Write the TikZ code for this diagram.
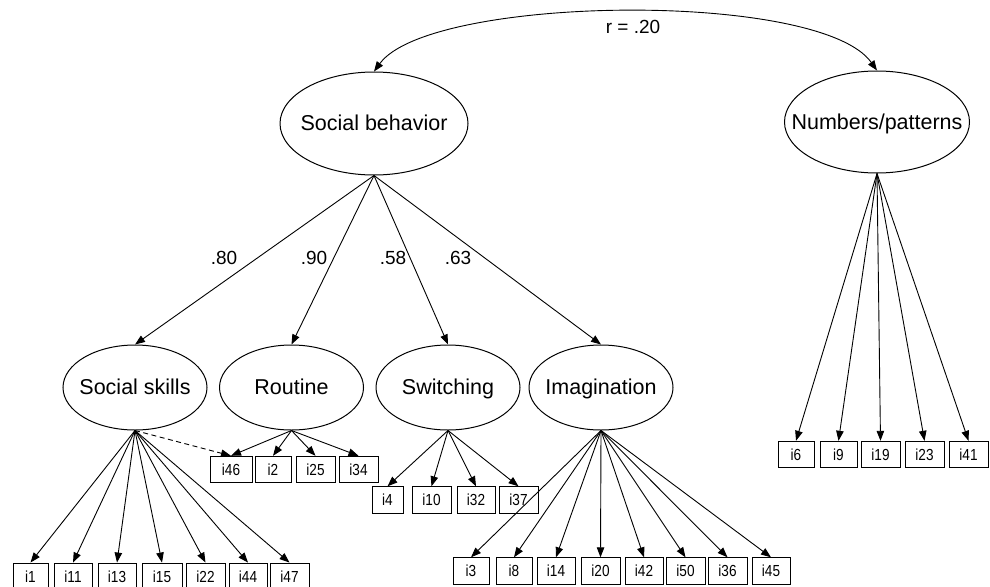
\documentclass[tikz,border=0pt]{standalone}
\usepackage{fontspec}
\setmainfont{Liberation Sans}
\newfontfamily\itemfont[FakeStretch=0.85]{Liberation Sans}
\usetikzlibrary{shapes.geometric,arrows.meta}
\begin{document}
\begin{tikzpicture}[x=1pt,y=-1pt,
  lat/.style={draw,ellipse,line width=1pt,inner sep=0pt,text height=15pt,text depth=1pt,font=\fontsize{21.5}{22}\selectfont},
  bigl/.style={lat,minimum width=188pt,minimum height=103pt},
  smalll/.style={lat,minimum width=144pt,minimum height=85pt},
  item/.style={draw,line width=0.9pt,inner sep=0pt,minimum width=38pt,minimum height=26.5pt,text height=11.5pt,text depth=0pt,font=\itemfont\fontsize{16}{16}\selectfont},
  ar/.style={line width=0.9pt,-{Triangle[length=10pt,width=7.5pt]}},
  coef/.style={font=\fontsize{19}{19}\selectfont,inner sep=0pt}]
\clip (0,0) rectangle (990,586);
\fill[white] (0,0) rectangle (990,586);

% latent variables
\node[bigl] (sb) at (374,123.5) {\makebox[0pt]{Social behavior}};
\node[bigl,minimum width=185pt,minimum height=102pt] (np) at (877,122) {\makebox[0pt]{Numbers/patterns}};
\node[smalll] (ss) at (135,387.5) {\makebox[0pt]{Social skills}};
\node[smalll] (ro) at (291.5,387.5) {\makebox[0pt]{Routine}};
\node[smalll] (sw) at (448,387.5) {\makebox[0pt]{Switching}};
\node[smalll] (im) at (601,387.5) {\makebox[0pt]{Imagination}};

% correlation
\draw[line width=0.9pt,{Triangle[length=10pt,width=7.5pt]}-{Triangle[length=10pt,width=7.5pt]}]
  (sb.north) .. controls (430,-5) and (820,-10) .. (np.north);
\node[coef] (r) at (633,27) {r = .20};

% second-order loadings
\draw[ar] (sb.south) -- (ss.north);
\draw[ar] (sb.south) -- (ro.north);
\draw[ar] (sb.south) -- (sw.north);
\draw[ar] (sb.south) -- (im.north);
\node[coef] (l1) at (224,258) {.80};
\node[coef] (l2) at (314,258) {.90};
\node[coef] (l3) at (393,258) {.58};
\node[coef] (l4) at (458,258) {.63};

% social skills items
\foreach \n/\x/\w in {i1/30.5/35,i11/73/38,i13/117/38,i15/162/40,i22/205.5/39,i44/248/38,i47/289.5/39}{
  \node[item,minimum width=\w pt,minimum height=27pt] (\n) at (\x,576.5) {\n};
  \draw[ar] (ss.south) -- (\n.north);
}
% routine items
\foreach \n/\x/\w in {i46/231/42,i2/273/36,i25/315.5/39,i34/358.5/39}{
  \node[item,minimum width=\w pt] (\n) at (\x,469.5) {\n};
}
\draw[ar,dashed,dash pattern=on 5pt off 3.5pt] (ss.south) -- (i46.north);
\foreach \n in {i46,i2,i25,i34}{ \draw[ar] (ro.south) -- (\n.north); }
% switching items
\foreach \n/\x/\w in {i4/387.5/31,i10/431.5/39,i32/476/38,i37/518.5/39}{
  \node[item,minimum width=\w pt] (\n) at (\x,500) {\n};
  \draw[ar] (sw.south) -- (\n.north);
}
% imagination items
\foreach \n/\x/\w in {i3/471/36,i8/514/36,i14/556/38,i20/600.5/39,i42/644/38,i50/685.5/39,i36/727.5/39,i45/771/38}{
  \node[item,minimum width=\w pt] (\n) at (\x,571) {\n};
  \draw[ar] (im.south) -- (\n.north);
}
% numbers/patterns items
\foreach \n/\x/\w in {i6/796/36,i9/838.5/37,i19/880.5/39,i23/924.5/39,i41/968.5/39}{
  \node[item,minimum width=\w pt] (\n) at (\x,454.5) {\n};
  \draw[ar] (np.south) -- (\n.north);
}
\end{tikzpicture}
\end{document}
